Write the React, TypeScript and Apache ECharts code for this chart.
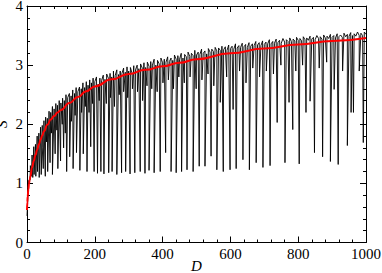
import React, { useEffect, useRef } from "react";
import * as echarts from "echarts";

// Black series: band samples every 5 units of D (D = 0, 5, 10, ... 1000)
const bandStep = 5;
const bandValues = [
  0.45, 1.05, 1.3, 1.48, 1.62, 1.66, 1.8, 1.85, 1.95, 1.98,
  2.06, 2.12, 2.1, 2.22, 2.2, 2.3, 2.26, 2.35, 2.32, 2.4,
  2.36, 2.44, 2.4, 2.5, 2.45, 2.52, 2.48, 2.58, 2.52, 2.62,
  2.55, 2.63, 2.6, 2.7, 2.62, 2.72, 2.66, 2.75, 2.7, 2.78,
  2.72, 2.8, 2.68, 2.78, 2.74, 2.83, 2.76, 2.85, 2.78, 2.86,
  2.8, 2.9, 2.82, 2.92, 2.84, 2.9, 2.86, 2.95, 2.88, 2.97,
  2.9, 2.96, 2.86, 2.99, 2.92, 3.0, 2.94, 3.02, 2.95, 3.04,
  2.96, 3.05, 2.98, 3.06, 3.0, 3.1, 3.0, 3.08, 3.02, 3.12,
  3.04, 3.1, 3.05, 3.14, 3.06, 3.12, 3.08, 3.17, 3.1, 3.16,
  3.1, 3.2, 3.12, 3.18, 3.14, 3.22, 3.15, 3.2, 3.16, 3.25,
  3.17, 3.22, 3.18, 3.27, 3.2, 3.24, 3.19, 3.28, 3.22, 3.27,
  3.23, 3.3, 3.24, 3.29, 3.25, 3.32, 3.26, 3.31, 3.25, 3.34,
  3.28, 3.32, 3.27, 3.36, 3.29, 3.33, 3.3, 3.37, 3.31, 3.35,
  3.3, 3.38, 3.32, 3.36, 3.33, 3.4, 3.34, 3.38, 3.33, 3.41,
  3.35, 3.39, 3.36, 3.43, 3.36, 3.4, 3.37, 3.44, 3.38, 3.42,
  3.37, 3.45, 3.39, 3.43, 3.4, 3.46, 3.4, 3.44, 3.41, 3.47,
  3.42, 3.45, 3.41, 3.48, 3.43, 3.46, 3.42, 3.49, 3.44, 3.47,
  3.43, 3.5, 3.45, 3.48, 3.44, 3.51, 3.46, 3.49, 3.45, 3.52,
  3.47, 3.5, 3.46, 3.53, 3.48, 3.51, 3.47, 3.54, 3.48, 3.52,
  3.49, 3.55, 3.5, 3.53, 3.49, 3.56, 3.5, 3.54, 3.5, 3.56,
  3.52,
];

// Deep downward spikes of the black series
const spikeD = [
  9, 13, 17, 21, 26, 31, 36, 42, 48, 54, 61, 68, 75, 83, 91, 99, 108, 117, 126, 136,
  146, 156, 166, 177, 188, 198, 208, 218, 227, 241, 251, 265, 279, 291, 304, 318, 334,
  348, 360, 375, 393, 409, 425, 440, 456, 472, 490, 508, 525, 543, 560, 579, 599, 617,
  637, 656, 676, 696, 717, 738, 761, 784, 803, 823, 848, 872, 895, 918, 945, 963, 992,
];
const spikeS = [
  1.05, 1.12, 1.1, 1.15, 1.12, 1.2, 1.1, 1.15, 1.25, 1.12, 1.2, 1.35, 1.15, 1.5, 1.25, 1.38, 1.6, 1.2, 1.45, 1.25,
  1.52, 1.22, 1.5, 1.2, 1.62, 1.2, 1.17, 1.2, 1.16, 1.18, 1.2, 1.15, 1.18, 1.2, 1.16, 1.18, 1.2,
  1.17, 1.22, 1.18, 1.2, 1.52, 1.2, 1.18, 1.2, 1.23, 1.2, 1.29, 1.29, 1.46, 1.23, 1.2, 1.23, 1.25,
  1.4, 1.23, 1.35, 1.27, 1.3, 2.03, 1.35, 1.91, 1.33, 2.2, 1.52, 1.45, 1.37, 1.32, 1.64, 2.2, 1.69,
];

// Shallower dips inside the band
const dipD = [
  45, 58, 72, 88, 104, 113, 131, 142, 161, 172, 183, 193, 213, 234, 246, 258, 272, 285, 297,
  311, 326, 341, 354, 368, 384, 401, 417, 432, 448, 464, 481, 499, 516, 534, 551, 570, 589,
  608, 627, 646, 666, 686, 706, 727, 749, 773, 793, 813, 835, 862, 884, 906, 931, 956, 980,
];
const dipS = [
  1.6, 1.7, 1.85, 1.9, 2.0, 1.85, 2.05, 2.15, 2.2, 2.3, 2.2, 2.35, 2.4, 2.35, 2.45, 2.3, 2.5, 2.55, 2.45,
  2.6, 2.55, 2.4, 2.65, 2.6, 2.55, 2.7, 2.75, 2.6, 2.8, 2.7, 2.8, 2.6, 2.75, 2.85, 2.65, 2.37, 2.8,
  2.25, 2.9, 2.7, 2.95, 2.8, 2.9, 2.85, 3.0, 2.37, 2.9, 3.0, 2.39, 2.95, 3.05, 2.59, 2.9, 2.2, 2.9,
];

// Red fitted curve
const fitD = [0, 1, 2, 4, 6, 8, 10, 15, 20, 25, 30, 35, 40, 45, 50, 60, 70, 80, 90, 100, 125, 150, 175, 200, 250, 300, 350, 400, 450, 500, 600, 700, 800, 900, 1000];
const fitS = [0.55, 0.68, 0.78, 0.9, 1.0, 1.06, 1.12, 1.27, 1.38, 1.48, 1.57, 1.66, 1.74, 1.81, 1.88, 1.99, 2.08, 2.14, 2.2, 2.24, 2.36, 2.46, 2.56, 2.64, 2.76, 2.85, 2.92, 2.98, 3.04, 3.1, 3.2, 3.28, 3.35, 3.41, 3.46];

const xTicks = ["0", "200", "400", "600", "800", "1000"];
const yTicks = ["0", "1", "2", "3", "4"];
const xStep = 200;
const yStep = 1;
const minorSplit = 5;

const FONT = "Liberation Serif";

export default function App() {
  const ref = useRef<HTMLDivElement>(null);
  useEffect(() => {
    if (!ref.current) return;
    const chart = echarts.init(ref.current, null, { renderer: "svg" });

    const black: [number, number][] = [];
    bandValues.forEach((v, i) => black.push([i * bandStep, v]));
    spikeD.forEach((d, i) => black.push([d, spikeS[i]]));
    dipD.forEach((d, i) => black.push([d, dipS[i]]));
    black.sort((a, b) => a[0] - b[0]);

    const red = fitD.map((d, i) => [d, fitS[i]]);

    const xMax = (xTicks.length - 1) * xStep;
    const yMax = (yTicks.length - 1) * yStep;

    const mkLine = () => ({ show: true, onZero: false, lineStyle: { color: "#000", width: 1 } });
    const mkTick = () => ({ show: true, inside: true, length: 6, lineStyle: { color: "#000", width: 1, opacity: 1 } });
    const mkMinor = () => ({ show: true, splitNumber: minorSplit, length: 3, lineStyle: { color: "#000", width: 1, opacity: 1 } });
    const label = { color: "#000", fontFamily: FONT, fontSize: 15 };
    const nameStyle = { color: "#000", fontFamily: FONT, fontSize: 15, fontStyle: "italic" };

    chart.setOption({
      animation: false,
      backgroundColor: "#fff",
      grid: { left: 27, right: 16, top: 6, bottom: 30.5, containLabel: false, outerBoundsMode: "none" },
      xAxis: [
        {
          type: "value", position: "bottom", min: 0, max: xMax, interval: xStep,
          axisLine: mkLine(), axisTick: mkTick(), minorTick: mkMinor(), splitLine: { show: false },
          axisLabel: { ...label, margin: 4, formatter: (v: number) => xTicks[Math.round(v / xStep)] ?? "" },
          name: "D", nameLocation: "middle", nameGap: 16, nameMoveOverlap: false,
          nameTextStyle: nameStyle,
        },
        {
          type: "value", position: "top", min: 0, max: xMax, interval: xStep,
          axisLine: mkLine(), axisTick: mkTick(), minorTick: mkMinor(), splitLine: { show: false },
          axisLabel: { show: false },
        },
      ],
      yAxis: [
        {
          type: "value", position: "left", min: 0, max: yMax, interval: yStep,
          axisLine: mkLine(), axisTick: mkTick(), minorTick: mkMinor(), splitLine: { show: false },
          axisLabel: { ...label, margin: 4, formatter: (v: number) => yTicks[Math.round(v / yStep)] ?? "" },
          name: "S", nameLocation: "middle", nameGap: 18, nameMoveOverlap: false,
          nameTextStyle: nameStyle,
        },
        {
          type: "value", position: "right", min: 0, max: yMax, interval: yStep,
          axisLine: mkLine(), axisTick: mkTick(), minorTick: mkMinor(), splitLine: { show: false },
          axisLabel: { show: false },
        },
      ],
      series: [
        {
          type: "line", data: black, xAxisIndex: 0, yAxisIndex: 0, showSymbol: false, symbol: "none",
          lineStyle: { color: "#000", width: 0.9 }, z: 2,
        },
        {
          type: "line", data: red, xAxisIndex: 0, yAxisIndex: 0, showSymbol: false, symbol: "none",
          smooth: true, smoothMonotone: "x",
          lineStyle: { color: "#ff0000", width: 2 }, z: 3,
        },
      ],
    });

    return () => chart.dispose();
  }, []);
  return (
    <div
      ref={ref}
      style={{ position: "fixed", left: 0, top: 0, width: 382, height: 273, background: "#fff" }}
    />
  );
}
